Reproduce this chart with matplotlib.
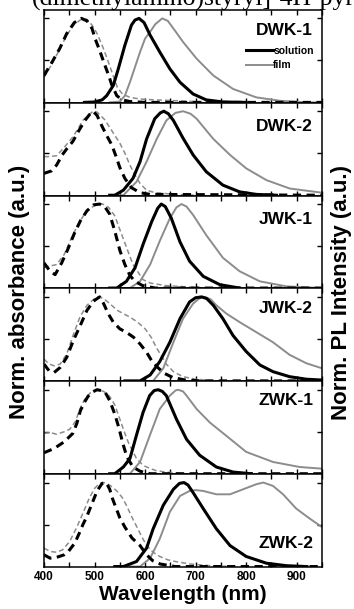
import matplotlib
matplotlib.use("Agg")
import matplotlib.pyplot as plt
from matplotlib.ticker import MultipleLocator

plt.rcParams['font.family'] = ['Liberation Sans', 'DejaVu Sans']

# ---- sample names ----
samples = ["DWK-1", "DWK-2", "JWK-1", "JWK-2", "ZWK-1", "ZWK-2"]

# ---- normalized absorbance, solution (wavelength nm, value) ----
abs_sol_wl = {
    "DWK-1": [400, 415, 431, 445, 460, 474, 485, 495, 501, 510, 520, 528, 534, 544, 555, 570, 600, 950],
    "DWK-2": [400, 415, 425, 436, 446, 457, 470, 481, 490, 497, 505, 514, 525, 534, 542, 550, 560, 573, 590, 610, 950],
    "JWK-1": [400, 412, 422, 435, 447, 460, 472, 485, 498, 510, 520, 530, 540, 550, 560, 570, 580, 595, 620, 950],
    "JWK-2": [400, 410, 420, 432, 445, 458, 471, 485, 498, 510, 518, 527, 537, 550, 565, 577, 590, 603, 613, 625, 638, 655, 680, 710, 950],
    "ZWK-1": [400, 420, 440, 457, 465, 472, 480, 487, 495, 505, 520, 530, 540, 548, 556, 564, 576, 590, 610, 950],
    "ZWK-2": [400, 412, 425, 440, 447, 461, 470, 477, 485, 495, 505, 515, 523, 530, 536, 550, 560, 574, 590, 603, 615, 630, 660, 950],
}
abs_sol_val = {
    "DWK-1": [0.32, 0.47, 0.64, 0.82, 0.95, 1.0, 0.97, 0.88, 0.76, 0.62, 0.45, 0.32, 0.21, 0.08, 0.03, 0.01, 0.0, 0.0],
    "DWK-2": [0.26, 0.29, 0.36, 0.48, 0.56, 0.64, 0.78, 0.89, 0.96, 1.0, 0.95, 0.83, 0.70, 0.60, 0.47, 0.33, 0.20, 0.09, 0.03, 0.01, 0.0],
    "JWK-1": [0.30, 0.20, 0.16, 0.30, 0.46, 0.65, 0.80, 0.92, 0.99, 1.0, 0.97, 0.88, 0.68, 0.45, 0.28, 0.15, 0.08, 0.03, 0.0, 0.0],
    "JWK-2": [0.20, 0.12, 0.10, 0.16, 0.28, 0.48, 0.65, 0.84, 0.95, 1.0, 0.92, 0.80, 0.70, 0.62, 0.57, 0.52, 0.44, 0.34, 0.24, 0.16, 0.09, 0.04, 0.01, 0.0, 0.0],
    "ZWK-1": [0.25, 0.30, 0.38, 0.48, 0.60, 0.75, 0.85, 0.92, 0.97, 1.0, 0.98, 0.87, 0.71, 0.55, 0.36, 0.20, 0.08, 0.03, 0.0, 0.0],
    "ZWK-2": [0.14, 0.10, 0.11, 0.14, 0.17, 0.28, 0.40, 0.50, 0.60, 0.75, 0.90, 0.99, 1.0, 0.92, 0.80, 0.58, 0.47, 0.34, 0.25, 0.14, 0.07, 0.03, 0.0, 0.0],
}

# ---- normalized absorbance, film ----
abs_film_wl = {
    "DWK-1": [400, 415, 430, 445, 460, 475, 485, 495, 505, 515, 525, 535, 545, 555, 570, 590, 620, 660, 700, 750, 800],
    "DWK-2": [400, 410, 425, 440, 458, 478, 497, 505, 520, 535, 550, 560, 570, 580, 590, 603, 620, 660, 700],
    "JWK-1": [400, 410, 425, 440, 451, 465, 478, 491, 505, 516, 528, 540, 556, 576, 596, 610, 640, 680, 720],
    "JWK-2": [400, 410, 420, 432, 445, 458, 471, 485, 498, 508, 518, 530, 545, 557, 570, 585, 600, 612, 622, 632, 642, 656, 675, 700, 740],
    "ZWK-1": [400, 412, 425, 440, 451, 462, 471, 480, 491, 500, 507, 518, 530, 540, 550, 560, 567, 583, 596, 603, 620, 640, 680],
    "ZWK-2": [400, 412, 425, 437, 451, 465, 478, 490, 500, 510, 518, 530, 544, 555, 563, 573, 583, 593, 603, 616, 629, 645, 660, 690, 730, 780],
}
abs_film_val = {
    "DWK-1": [0.30, 0.45, 0.62, 0.80, 0.93, 0.995, 0.99, 0.92, 0.82, 0.68, 0.52, 0.35, 0.18, 0.10, 0.06, 0.04, 0.03, 0.02, 0.01, 0.005, 0.0],
    "DWK-2": [0.46, 0.46, 0.47, 0.57, 0.70, 0.90, 1.0, 0.99, 0.90, 0.76, 0.62, 0.50, 0.36, 0.24, 0.14, 0.06, 0.03, 0.01, 0.0],
    "JWK-1": [0.24, 0.26, 0.28, 0.40, 0.55, 0.73, 0.86, 0.95, 0.995, 1.0, 0.96, 0.86, 0.60, 0.28, 0.10, 0.06, 0.03, 0.015, 0.0],
    "JWK-2": [0.26, 0.20, 0.18, 0.20, 0.32, 0.55, 0.76, 0.90, 0.97, 1.0, 0.98, 0.92, 0.84, 0.80, 0.76, 0.70, 0.62, 0.52, 0.40, 0.30, 0.20, 0.11, 0.05, 0.02, 0.0],
    "ZWK-1": [0.48, 0.49, 0.47, 0.50, 0.53, 0.62, 0.77, 0.88, 0.96, 0.99, 1.0, 0.98, 0.92, 0.82, 0.65, 0.48, 0.37, 0.18, 0.10, 0.08, 0.04, 0.02, 0.0],
    "ZWK-2": [0.22, 0.18, 0.17, 0.20, 0.30, 0.47, 0.65, 0.82, 0.93, 0.99, 1.0, 0.97, 0.90, 0.82, 0.73, 0.60, 0.48, 0.36, 0.25, 0.17, 0.12, 0.08, 0.06, 0.03, 0.01, 0.0],
}

# ---- normalized PL, solution ----
pl_sol_wl = {
    "DWK-1": [480, 500, 515, 524, 537, 547, 560, 573, 580, 588, 598, 610, 629, 649, 669, 695, 721, 754, 800],
    "DWK-2": [530, 540, 557, 576, 590, 603, 619, 630, 637, 646, 656, 675, 695, 721, 754, 787, 820, 860],
    "JWK-1": [530, 544, 563, 580, 596, 613, 625, 632, 640, 652, 669, 688, 715, 748, 787],
    "JWK-2": [560, 590, 610, 629, 649, 669, 688, 700, 712, 722, 735, 754, 774, 800, 827, 853, 886, 919, 950],
    "ZWK-1": [530, 540, 557, 570, 583, 596, 609, 618, 626, 634, 642, 662, 682, 708, 741, 774, 810],
    "ZWK-2": [540, 557, 583, 603, 616, 636, 656, 668, 677, 685, 695, 715, 741, 768, 800, 840, 880, 920],
}
pl_sol_val = {
    "DWK-1": [0.0, 0.005, 0.03, 0.08, 0.20, 0.40, 0.68, 0.92, 0.98, 1.0, 0.95, 0.80, 0.60, 0.40, 0.24, 0.10, 0.03, 0.005, 0.0],
    "DWK-2": [0.0, 0.0, 0.06, 0.20, 0.40, 0.67, 0.91, 0.98, 1.0, 0.97, 0.89, 0.68, 0.48, 0.28, 0.12, 0.04, 0.01, 0.0],
    "JWK-1": [0.0, 0.0, 0.08, 0.24, 0.52, 0.79, 0.95, 1.0, 0.97, 0.83, 0.55, 0.32, 0.14, 0.04, 0.0],
    "JWK-2": [0.0, 0.0, 0.07, 0.23, 0.46, 0.74, 0.94, 0.99, 1.0, 0.98, 0.90, 0.74, 0.54, 0.35, 0.19, 0.11, 0.05, 0.02, 0.01],
    "ZWK-1": [0.0, 0.0, 0.08, 0.18, 0.46, 0.73, 0.93, 0.99, 1.0, 0.98, 0.93, 0.65, 0.41, 0.22, 0.08, 0.02, 0.0],
    "ZWK-2": [0.0, 0.0, 0.06, 0.22, 0.45, 0.73, 0.92, 0.99, 1.0, 0.97, 0.88, 0.69, 0.45, 0.25, 0.12, 0.04, 0.01, 0.0],
}

# ---- normalized PL, film ----
pl_film_wl = {
    "DWK-1": [530, 550, 560, 570, 580, 590, 600, 610, 620, 634, 645, 656, 675, 702, 735, 774, 820, 866, 919, 950],
    "DWK-2": [540, 557, 583, 603, 623, 642, 660, 675, 690, 702, 735, 768, 800, 840, 886, 950],
    "JWK-1": [560, 570, 590, 610, 629, 649, 662, 672, 682, 695, 721, 754, 787, 827, 880, 950],
    "JWK-2": [600, 616, 636, 656, 675, 695, 707, 718, 730, 741, 761, 787, 820, 853, 886, 919, 950],
    "ZWK-1": [560, 570, 590, 609, 629, 649, 660, 665, 675, 682, 702, 728, 761, 800, 853, 906, 950],
    "ZWK-2": [570, 590, 610, 629, 649, 669, 688, 700, 715, 741, 768, 794, 820, 834, 853, 873, 899, 926, 950],
}
pl_film_val = {
    "DWK-1": [0.0, 0.01, 0.08, 0.24, 0.42, 0.60, 0.76, 0.84, 0.93, 1.0, 0.97, 0.88, 0.72, 0.52, 0.32, 0.16, 0.06, 0.02, 0.0, 0.0],
    "DWK-2": [0.0, 0.0, 0.16, 0.40, 0.67, 0.89, 0.98, 1.0, 0.97, 0.91, 0.67, 0.48, 0.32, 0.18, 0.08, 0.03],
    "JWK-1": [0.0, 0.0, 0.08, 0.28, 0.56, 0.83, 0.96, 1.0, 0.97, 0.87, 0.63, 0.36, 0.20, 0.08, 0.02, 0.0],
    "JWK-2": [0.0, 0.0, 0.15, 0.46, 0.74, 0.92, 0.98, 1.0, 0.97, 0.90, 0.80, 0.70, 0.58, 0.46, 0.31, 0.21, 0.15],
    "ZWK-1": [0.0, 0.0, 0.14, 0.45, 0.77, 0.93, 0.99, 1.0, 0.98, 0.93, 0.77, 0.61, 0.45, 0.26, 0.14, 0.08, 0.06],
    "ZWK-2": [0.0, 0.0, 0.10, 0.33, 0.65, 0.84, 0.90, 0.91, 0.90, 0.86, 0.86, 0.92, 0.98, 1.0, 0.96, 0.86, 0.69, 0.57, 0.47],
}

label_y = [0.73, 0.70, 0.70, 0.74, 0.74, 0.20]
x_ticks = [400, 500, 600, 700, 800, 900]

GRAY = "#8c8c8c"

fig = plt.figure(figsize=(3.54, 6.09), dpi=100)
axes = fig.subplots(len(samples), 1, sharex=True)
fig.subplots_adjust(left=0.1243, right=0.9096, bottom=0.069, top=0.9836, hspace=0)

for i, (ax, name) in enumerate(zip(axes, samples)):
    ax.plot(abs_film_wl[name], abs_film_val[name], color=GRAY, lw=1.1,
            linestyle=(0, (3.3, 2.0)), zorder=2)
    ax.plot(abs_sol_wl[name], abs_sol_val[name], color="black", lw=2.2,
            linestyle=(0, (2.7, 1.8)), zorder=3)
    l_film, = ax.plot(pl_film_wl[name], pl_film_val[name], color=GRAY, lw=1.4,
                      zorder=2, label="film")
    l_sol, = ax.plot(pl_sol_wl[name], pl_sol_val[name], color="black", lw=2.2,
                     zorder=3, label="solution")
    ax.set_xlim(400, 950)
    ax.set_ylim(-0.005, 1.1)
    ax.set_yticks([0.5, 1.0])
    ax.xaxis.set_major_locator(MultipleLocator(100))
    ax.xaxis.set_minor_locator(MultipleLocator(50))
    ax.tick_params(which="both", direction="in", top=True, right=True,
                   labelleft=False, length=3.5, width=1.0)
    ax.tick_params(which="minor", length=3.5)
    for sp in ax.spines.values():
        sp.set_linewidth(1.1)
    ax.text(0.968, label_y[i], name, transform=ax.transAxes, ha="right",
            va="baseline", fontsize=12.5, fontweight="bold")
    if i == 0:
        ax.legend(handles=[l_sol, l_film], loc="upper right",
                  bbox_to_anchor=(0.985, 0.66), frameon=False,
                  handlelength=2.6, handletextpad=0.0, labelspacing=0.45,
                  borderaxespad=0.0, prop={"weight": "bold", "size": 7.5})

axes[-1].set_xticks(x_ticks)
axes[-1].set_xticklabels([str(t) for t in x_ticks], fontsize=8.5, fontweight="bold")
axes[-1].tick_params(axis="x", pad=3)
axes[-1].set_xlabel("Wavelength (nm)", fontsize=15, fontweight="bold", labelpad=1)

fig.text(0.055, 0.52, "Norm. absorbance (a.u.)", rotation=90, ha="center",
         va="center", fontsize=16, fontweight="bold")
fig.text(0.966, 0.52, "Norm. PL Intensity (a.u.)", rotation=90, ha="center",
         va="center", fontsize=16, fontweight="bold")

# running caption line from the page above, clipped by the top edge
fig.text(0.09, 0.9915, "(dimethylamino)styryl]-4H-pyran", family="Liberation Serif",
         fontsize=18.5, ha="left", va="baseline", zorder=0)

fig.savefig("out.png", dpi=100)
